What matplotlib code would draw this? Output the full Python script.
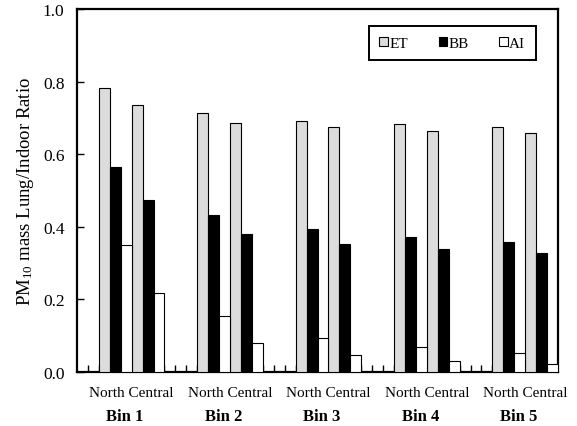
import matplotlib
matplotlib.use("Agg")
import matplotlib.pyplot as plt
import matplotlib.transforms as mtrans
import numpy as np

plt.rcParams['font.family'] = ['Liberation Serif', 'DejaVu Serif']
plt.rcParams['mathtext.fontset'] = 'custom'
plt.rcParams['mathtext.rm'] = 'Liberation Serif'
plt.rcParams['mathtext.it'] = 'Liberation Serif:italic'
plt.rcParams['mathtext.bf'] = 'Liberation Serif:bold'

bins = ["Bin 1", "Bin 2", "Bin 3", "Bin 4", "Bin 5"]
sites = ["North", "Central"]
series = ["ET", "BB", "AI"]
et_north = [0.781, 0.714, 0.692, 0.682, 0.675]
et_central = [0.735, 0.687, 0.674, 0.665, 0.658]
bb_north = [0.565, 0.432, 0.393, 0.371, 0.357]
bb_central = [0.475, 0.379, 0.353, 0.340, 0.329]
ai_north = [0.349, 0.155, 0.094, 0.070, 0.051]
ai_central = [0.217, 0.081, 0.047, 0.031, 0.023]
yticks = [0.0, 0.2, 0.4, 0.6, 0.8, 1.0]

colors = {"ET": "#dcdcdc", "BB": "#000000", "AI": "#ffffff"}
values = {
    ("ET", "North"): et_north, ("ET", "Central"): et_central,
    ("BB", "North"): bb_north, ("BB", "Central"): bb_central,
    ("AI", "North"): ai_north, ("AI", "Central"): ai_central,
}

fig = plt.figure(figsize=(5.77, 4.27), dpi=100)
ax = fig.add_axes([77/577, 1-373/427, 481/577, 363/427])

n_slots = 44
lead = 2
per_bin = 9
for si, s in enumerate(series):
    for gi, site in enumerate(sites):
        xs = [lead + per_bin*b + 3*gi + si + 0.5 for b in range(len(bins))]
        ax.bar(xs, values[(s, site)], width=1.0, color=colors[s],
               edgecolor='black', linewidth=0.8, zorder=3,
               label=s if gi == 0 else None)

ax.set_xlim(0, n_slots)
ax.set_ylim(0, 1.0)
ax.set_xticks(np.arange(1, n_slots))
ax.set_xticklabels([])
ax.tick_params(axis='x', direction='in', length=5, width=1.0, color='black')
ax.set_yticks(yticks)
ax.set_yticklabels([f"{v:.1f}" for v in yticks], fontsize=12.5)
ax.tick_params(axis='y', direction='in', length=5, width=1.0, pad=9)
for sp in ax.spines.values():
    sp.set_linewidth(1.6)

ax.set_ylabel(r'PM$_{\mathrm{10}}$ mass Lung/Indoor Ratio', fontsize=13.5, labelpad=5)

trans = mtrans.blended_transform_factory(ax.transData, ax.transAxes)
for b, name in enumerate(bins):
    cx = lead + per_bin*b + 3
    ax.text(cx, -24/363, "North Central", transform=trans, ha='center',
            va='baseline', fontsize=11)
    ax.text(cx - 0.6, -48.5/363, name, transform=trans, ha='center',
            va='baseline', fontsize=12, fontweight='bold')

leg = ax.legend(loc='upper right', bbox_to_anchor=(536/577, 1-27/427),
                bbox_transform=fig.transFigure, borderaxespad=0, ncol=3,
                handlelength=0.55, handleheight=0.55, handletextpad=0.1,
                columnspacing=2.0, fontsize=11, frameon=True, fancybox=False,
                framealpha=1, borderpad=0.7)
leg.get_frame().set_edgecolor('black')
leg.get_frame().set_linewidth(1.4)

fig.savefig("out.png", dpi=100)
